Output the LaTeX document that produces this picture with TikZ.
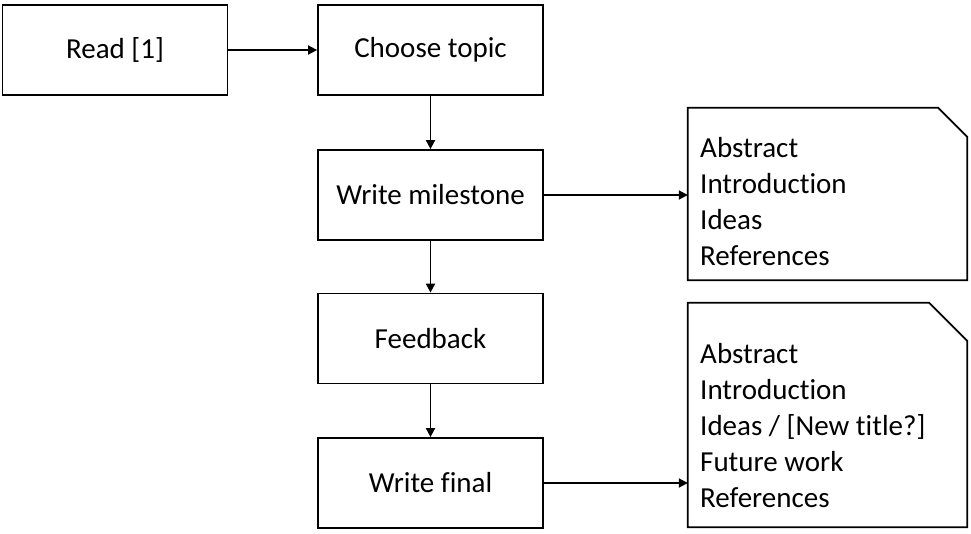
\documentclass[tikz,border=0pt]{standalone}
\usepackage{fontspec}
\setmainfont[Ligatures=NoCommon]{Carlito}
\usetikzlibrary{arrows.meta}
\begin{document}
\begin{tikzpicture}[x=1pt,y=-1pt,
  box/.style={draw, line width=1.8pt, minimum width=225pt, minimum height=90pt, inner sep=0pt, font=\fontsize{29}{36}\selectfont},
  arr/.style={line width=1.8pt, -{Triangle[length=9pt,width=9pt]}},
  doc/.style={minimum width=279pt, inner sep=0pt},
  doctext/.style={anchor=base west, align=left, inner sep=0pt, font=\fontsize{29}{35.8}\selectfont},
  docline/.style={line width=1.8pt, line join=miter}]
\useasboundingbox (0,0) rectangle (971,533);
\node[box] (read) at (115,50) {Read [1]};
\node[box] (choose) at (430.5,50) {Choose topic};
\node[box] (mile) at (430.5,195) {Write milestone};
\node[box] (feed) at (430.5,338.5) {Feedback};
\node[box] (final) at (430.5,483) {Write final};
\node[doc, minimum height=172pt] (d1) at (827.5,194) {};
\node[doc, minimum height=224pt] (d2) at (827.5,415) {};
\draw[docline] (d1.south west) -- (d1.north west) -- ([xshift=-29pt]d1.north east) -- ([yshift=-29pt]d1.north east) -- (d1.south east) -- cycle;
\draw[docline] (d2.south west) -- (d2.north west) -- ([xshift=-38pt]d2.north east) -- ([yshift=-38pt]d2.north east) -- (d2.south east) -- cycle;
\node[doctext] (t1) at (700,265) {Abstract\\Introduction\\Ideas\\References};
\node[doctext] (t2) at (700,507) {Abstract\\Introduction\\Ideas / [New title?]\\Future work\\References};
\draw[arr] (read) -- (choose);
\draw[arr] (choose) -- (mile);
\draw[arr] (mile) -- (feed);
\draw[arr] (feed) -- (final);
\draw[arr] (mile.east) -- (mile.east -| d1.west);
\draw[arr] (final.east) -- (final.east -| d2.west);
\end{tikzpicture}
\end{document}
